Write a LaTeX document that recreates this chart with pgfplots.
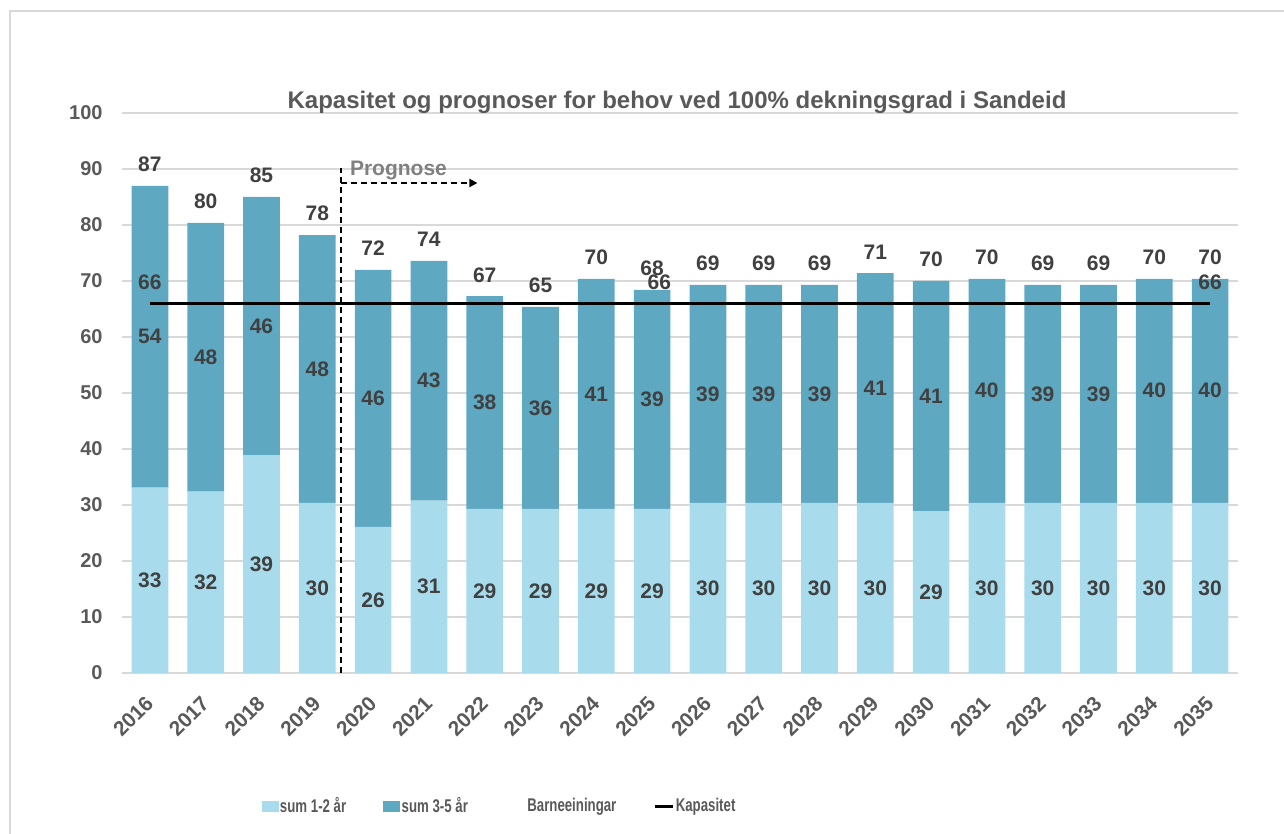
\documentclass[border=0pt]{standalone}
\usepackage{fontspec}
\setmainfont{Liberation Sans}
\newfontfamily\legfont[FakeStretch=0.72]{Liberation Sans}
\usepackage{pgfplots}
\pgfplotsset{compat=1.18}
\usepackage{pgfplotstable}
\usetikzlibrary{arrows.meta}
\definecolor{lightbar}{HTML}{A8DCEC}
\definecolor{darkbar}{HTML}{5EA8C1}
\definecolor{labtext}{HTML}{404040}
\definecolor{ticktext}{HTML}{595959}
\definecolor{gridc}{HTML}{D9D9D9}
\definecolor{progc}{HTML}{808080}

\pgfplotstableread{
x light dark
0 33.1 53.9
1 32.4 48.0
2 38.9 46.1
3 30.4 47.8
4 26.1 45.9
5 30.8 42.8
6 29.3 38.0
7 29.3 36.1
8 29.3 41.1
9 29.3 39.1
10 30.4 38.9
11 30.4 38.9
12 30.4 38.9
13 30.4 41.0
14 28.9 41.1
15 30.4 40.0
16 30.4 38.9
17 30.4 38.9
18 30.4 40.0
19 30.4 40.0
}\bars

\pgfplotstableread{
x y lab
0 16.55 33
1 16.2 32
2 19.45 39
3 15.2 30
4 13.05 26
5 15.4 31
6 14.65 29
7 14.65 29
8 14.65 29
9 14.65 29
10 15.2 30
11 15.2 30
12 15.2 30
13 15.2 30
14 14.45 29
15 15.2 30
16 15.2 30
17 15.2 30
18 15.2 30
19 15.2 30
}\lightlabs

\pgfplotstableread{
x y lab
0 60.05 54
1 56.4 48
2 61.95 46
3 54.3 48
4 49.05 46
5 52.2 43
6 48.3 38
7 47.35 36
8 49.85 41
9 48.85 39
10 49.85 39
11 49.85 39
12 49.85 39
13 50.9 41
14 49.45 41
15 50.4 40
16 49.85 39
17 49.85 39
18 50.4 40
19 50.4 40
}\darklabs

\pgfplotstableread{
x y lab
0 87.0 87
1 80.4 80
2 85.0 85
3 78.2 78
4 72.0 72
5 73.6 74
6 67.3 67
7 65.4 65
8 70.4 70
9 68.4 68
10 69.3 69
11 69.3 69
12 69.3 69
13 71.4 71
14 70.0 70
15 70.4 70
16 69.3 69
17 69.3 69
18 70.4 70
19 70.4 70
}\totlabs

\pgfplotstableread{
x y
0 66
1 66
2 66
3 66
4 66
5 66
6 66
7 66
8 66
9 66
10 66
11 66
12 66
13 66
14 66
15 66
16 66
17 66
18 66
19 66
}\kap

\pgfplotstableread{
x y lab
0 66 66
9.13 66 66
19 66 66
}\kaplabs

\pgfplotsset{
  base/.style={
    width=558pt, height=280pt, scale only axis,
    at={(61pt,80.5pt)}, anchor=south west,
    xmin=-0.5, xmax=19.5, ymin=0, ymax=100,
  },
  lab/.style={
    draw=none, mark=none, nodes near coords,
    point meta=explicit symbolic,
    every node near coord/.append style={
      inner sep=0pt, text=labtext,
      font=\bfseries\fontsize{10.5}{12}\selectfont},
  },
}

\begin{document}
\begin{tikzpicture}
\path[use as bounding box] (0pt,0pt) rectangle (642pt,417pt);
\draw[gridc, line width=0.9pt] (5pt,0pt) -- (5pt,411.5pt) -- (642pt,411.5pt);

\begin{axis}[base,
  ybar stacked, bar width=18.35pt,
  axis line style={draw=none},
  ymajorgrids, grid style={gridc, line width=0.6pt},
  ytick={0,10,...,100},
  xtick={0,...,19},
  xticklabels={2016,2017,2018,2019,2020,2021,2022,2023,2024,2025,2026,2027,2028,2029,2030,2031,2032,2033,2034,2035},
  major tick length=0pt,
  /pgf/number format/assume math mode=true,
  yticklabel style={font=\bfseries\fontsize{10}{12}\selectfont, text=ticktext, inner sep=0pt, anchor=east, xshift=-9.5pt},
  xticklabel style={font=\bfseries\fontsize{10.4}{12}\selectfont, text=ticktext, inner sep=0pt, rotate=45, anchor=north east, xshift=-9.5pt, yshift=-5.5pt},
  legend style={at={(axis description cs:0.338,-0.2375)}, anchor=center, draw=none, fill=none,
    font=\legfont\bfseries\fontsize{9.2}{11}\selectfont, text=ticktext,
    nodes={inner sep=0.6pt},
    /tikz/every even column/.append style={column sep=18pt}},
  legend columns=4, legend cell align=left,
]
\addplot[fill=lightbar, draw=none,
  legend image code/.code={\fill[lightbar] (0pt,-2.75pt) rectangle (8.5pt,2.75pt);}]
  table[x=x, y=light] {\bars};
\addlegendentry{sum 1-2 år}
\addplot[fill=darkbar, draw=none,
  legend image code/.code={\fill[darkbar] (0pt,-2.75pt) rectangle (8.5pt,2.75pt);}]
  table[x=x, y=dark] {\bars};
\addlegendentry{sum 3-5 år}
\addlegendimage{legend image code/.code={\path[draw=none, fill=none] (0pt,-2.75pt) rectangle (10.5pt,2.75pt);}}
\addlegendentry{Barneeiningar}
\addlegendimage{legend image code/.code={\draw[black, line width=1.5pt] (0pt,0pt) -- (9pt,0pt);}}
\addlegendentry{Kapasitet}
\end{axis}

\begin{axis}[base, hide axis, clip=false]
\addplot[black, line width=1.6pt] table[x=x, y=y] {\kap};
\addplot[lab, every node near coord/.append style={anchor=center}] table[x=x, y=y, meta=lab] {\lightlabs};
\addplot[lab, every node near coord/.append style={anchor=center}] table[x=x, y=y, meta=lab] {\darklabs};
\addplot[lab, every node near coord/.append style={anchor=south, yshift=6.75pt}] table[x=x, y=y, meta=lab] {\totlabs};
\addplot[lab, every node near coord/.append style={anchor=south, yshift=6.5pt}] table[x=x, y=y, meta=lab] {\kaplabs};
\draw[black, line width=1pt, dash pattern=on 3pt off 2pt] (axis cs:3.42,0) -- (axis cs:3.42,90.2);
\draw[black, line width=1pt, dash pattern=on 3pt off 2pt, -{Triangle[length=4pt,width=4pt]}] (axis cs:3.42,87.5) -- (axis cs:5.87,87.5);
\node[anchor=base west, inner sep=0pt, text=progc, font=\bfseries\fontsize{10.5}{12}\selectfont] at (axis cs:3.58,88.75) {Prognose};
\end{axis}

\node[anchor=base, inner sep=0pt, text=ticktext, font=\bfseries\fontsize{12}{14}\selectfont] at (338.5pt,362.5pt) {Kapasitet og prognoser for behov ved 100\% dekningsgrad i Sandeid};
\end{tikzpicture}
\end{document}
